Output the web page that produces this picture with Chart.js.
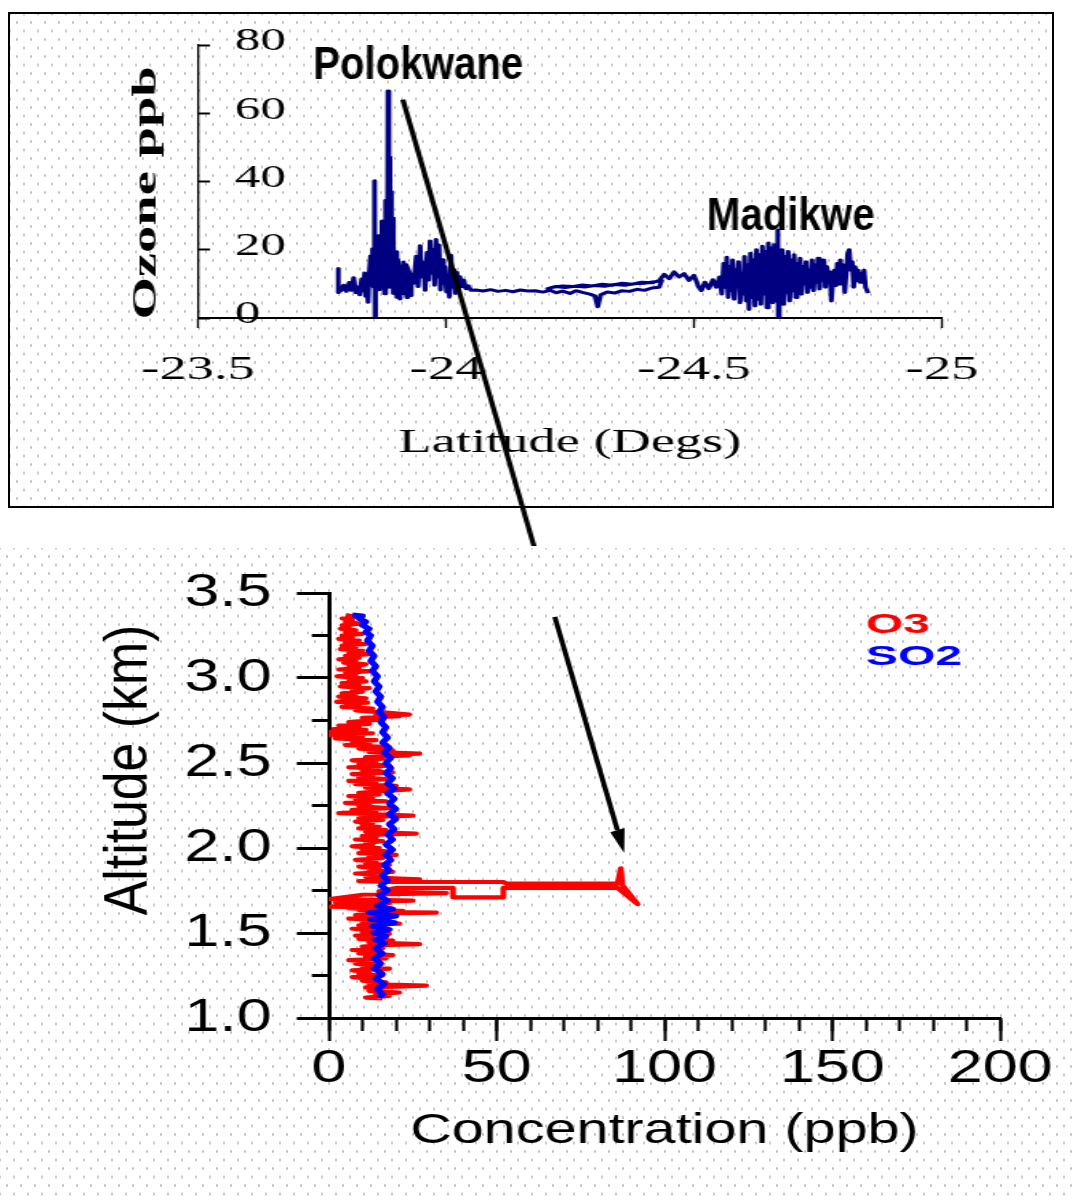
<!DOCTYPE html>
<html>
<head>
<meta charset="utf-8">
<title>Ozone, Polokwane to Madikwe</title>
<script src="https://cdn.jsdelivr.net/npm/chart.js@4.4.1/dist/chart.umd.min.js"></script>
<style>
  html, body { margin: 0; padding: 0; background: #fff; }
  body { position: relative; width: 1073px; height: 1200px; overflow: hidden; }
  .dots {
    background-color: #fff;
    background-image: radial-gradient(circle, #c4c4c4 0 1px, transparent 1.5px),
                      radial-gradient(circle, #c4c4c4 0 1px, transparent 1.5px);
    background-size: 14px 17px;
    background-position: 0 0, 7px 8.5px;
  }
  #box { position: absolute; left: 8px; top: 12px; width: 1042px; height: 492px; border: 2px solid #000; }
  #lowBg { position: absolute; left: 0; top: 548px; width: 1073px; height: 652px; }
  .wrap { position: absolute; transform-origin: 0 0; }
  .wrap canvas { display: block; }
  #topWrap { left: 10px; top: 14px; width: 651px; height: 532px; transform: scaleX(1.6); }
  #lowWrap { left: 0; top: 550px; width: 783px; height: 650px; transform: scaleX(1.37); }
</style>
</head>
<body>
<div id="box" class="dots"></div>
<div id="lowBg" class="dots"></div>
<div id="topWrap" class="wrap"><canvas id="top-chart" width="651" height="532"></canvas></div>
<div id="lowWrap" class="wrap"><canvas id="low-chart" width="783" height="650"></canvas></div>
<script>
// Tick values
const latTicks = [-23.5, -24, -24.5, -25];
const ozoneTicks = [0, 20, 40, 60, 80];
const altTicks = [1.0, 1.5, 2.0, 2.5, 3.0, 3.5];
const altLabels = ['1.0', '1.5', '2.0', '2.5', '3.0', '3.5'];
const concTicks = [0, 50, 100, 150, 200];

// Flight track, [latitude, ozone ppb]
const ozoneTrack = [
  // Polokwane
  [-23.783,14.5],[-23.783,7.5],[-23.789,8.2],[-23.794,9.6],[-23.799,7.8],[-23.805,10.4],[-23.809,8.1],
  [-23.814,11.8],[-23.818,7.4],[-23.822,9.1],[-23.826,6.8],[-23.830,11.4],[-23.833,8.0],[-23.836,13.2],
  [-23.838,6.4],[-23.840,9.6],[-23.843,4.6],[-23.845,12.6],[-23.848,18.2],[-23.850,11.0],[-23.852,20.3],
  [-23.854,9.1],[-23.856,40.2],[-23.857,0.2],[-23.858,14.1],[-23.860,22.4],[-23.862,10.2],[-23.864,24.1],
  [-23.866,8.3],[-23.868,19.2],[-23.870,13.0],[-23.871,28.4],[-23.873,9.2],[-23.875,21.0],[-23.876,7.1],
  [-23.878,34.5],[-23.879,12.2],[-23.881,23.4],[-23.882,10.1],[-23.883,66.5],[-23.885,12.0],[-23.886,47.2],
  [-23.887,9.0],[-23.889,37.1],[-23.890,14.2],[-23.892,29.3],[-23.893,7.2],[-23.895,21.1],[-23.897,11.0],
  [-23.899,19.4],[-23.901,6.1],[-23.903,17.2],[-23.905,9.5],[-23.907,15.3],[-23.908,5.6],[-23.910,13.1],
  [-23.912,8.0],[-23.914,16.4],[-23.916,7.1],[-23.918,11.2],[-23.921,6.0],[-23.923,14.1],[-23.925,8.5],
  [-23.928,12.2],[-23.930,6.6],
  [-23.915,10.1],[-23.900,13.2],[-23.885,10.4],[-23.870,12.6],[-23.860,9.1],[-23.850,11.2],[-23.862,14.3],
  [-23.878,16.1],[-23.892,18.2],[-23.905,12.1],[-23.920,15.6],[-23.935,10.2],
  [-23.940,18.1],[-23.944,9.2],[-23.948,21.2],[-23.951,12.1],[-23.955,16.3],[-23.958,8.1],[-23.962,19.2],
  [-23.965,11.1],[-23.968,22.6],[-23.971,13.2],[-23.974,20.1],[-23.977,9.6],[-23.980,23.0],[-23.983,12.1],
  [-23.986,21.4],[-23.989,8.2],[-23.992,17.1],[-23.995,10.2],[-23.998,15.1],[-24.001,7.6],[-24.004,12.2],
  [-24.007,6.1],[-24.010,18.4],[-24.013,9.1],[-24.016,14.2],[-24.019,7.2],[-24.022,13.4],[-24.025,8.1],
  [-24.028,12.1],[-24.032,9.2],[-24.036,11.1],[-24.040,8.6],[-24.045,9.4],[-24.050,8.1],
  // transit
  [-24.060,8.2],[-24.075,7.9],[-24.090,8.3],[-24.105,7.8],[-24.120,8.1],[-24.135,7.7],[-24.150,8.2],
  [-24.165,7.9],[-24.180,8.0],[-24.195,7.6],[-24.210,8.1],[-24.222,7.4],[-24.235,7.9],[-24.250,7.2],
  [-24.262,8.0],[-24.275,7.5],[-24.290,7.0],[-24.300,6.5],[-24.306,3.3],[-24.312,6.8],[-24.325,7.6],
  [-24.340,7.3],[-24.355,8.0],[-24.370,7.8],[-24.385,8.4],[-24.400,8.1],[-24.415,8.8],[-24.430,9.0],
  [-24.435,11.0],[-24.420,10.6],[-24.400,10.2],[-24.380,10.0],[-24.360,9.6],[-24.340,9.8],[-24.320,9.3],
  [-24.300,9.5],[-24.280,9.1],[-24.260,9.3],[-24.240,8.9],[-24.220,9.2],[-24.205,8.6],
  [-24.215,9.0],[-24.235,9.4],[-24.255,9.2],[-24.275,9.7],[-24.295,9.4],[-24.315,9.9],[-24.335,9.6],
  [-24.355,10.2],[-24.375,9.9],[-24.395,10.5],[-24.415,10.3],[-24.430,11.0],[-24.440,12.8],[-24.450,11.5],
  [-24.460,13.5],[-24.470,12.0],[-24.480,13.0],[-24.490,11.0],[-24.500,12.5],[-24.510,9.0],[-24.515,8.0],
  [-24.522,10.5],[-24.530,8.6],[-24.538,11.2],[-24.545,9.0],[-24.552,12.0],
  // Madikwe
  [-24.556,7.0],[-24.560,16.0],[-24.563,9.0],[-24.566,17.8],[-24.569,6.0],[-24.572,15.0],[-24.575,8.0],
  [-24.578,17.0],[-24.581,5.5],[-24.584,14.0],[-24.587,9.5],[-24.590,16.5],[-24.593,4.5],[-24.596,13.0],
  [-24.599,7.0],[-24.602,18.0],[-24.605,5.0],[-24.608,15.5],[-24.611,2.5],[-24.614,19.0],[-24.617,6.0],
  [-24.620,17.0],[-24.623,3.5],[-24.626,20.0],[-24.629,5.5],[-24.632,18.5],[-24.635,4.0],[-24.638,21.0],
  [-24.641,7.0],[-24.644,19.5],[-24.647,3.0],[-24.650,22.0],[-24.653,6.0],[-24.656,20.5],[-24.659,4.5],
  [-24.662,21.5],[-24.665,5.0],[-24.667,19.0],[-24.669,25.8],[-24.670,0.3],[-24.672,17.0],[-24.675,6.5],
  [-24.678,20.0],[-24.681,4.0],[-24.684,18.0],[-24.687,7.5],[-24.690,19.5],[-24.693,5.0],[-24.696,17.0],
  [-24.699,8.0],[-24.702,18.5],[-24.705,6.0],[-24.708,16.0],[-24.711,9.0],[-24.714,17.5],[-24.717,7.0],
  [-24.720,15.0],[-24.723,10.0],[-24.726,16.5],[-24.729,7.5],[-24.732,14.0],[-24.735,9.0],[-24.738,17.0],
  [-24.741,8.0],[-24.744,15.5],[-24.747,10.5],[-24.750,17.5],[-24.753,8.5],[-24.756,14.5],[-24.759,11.0],
  [-24.762,17.0],[-24.765,9.0],[-24.768,15.0],[-24.771,12.0],[-24.774,13.5],[-24.777,5.0],[-24.780,11.0],
  [-24.783,14.0],[-24.786,9.5],[-24.789,16.0],[-24.792,10.0],[-24.795,17.0],[-24.798,12.0],[-24.801,15.5],
  [-24.804,7.5],[-24.807,13.0],[-24.810,19.0],[-24.813,20.0],[-24.816,14.0],[-24.819,16.5],[-24.822,9.0],
  [-24.825,15.0],[-24.828,11.0],[-24.831,14.0],[-24.834,10.5],[-24.837,13.0],[-24.840,12.0],[-24.843,14.0],
  [-24.846,9.0],[-24.849,8.0],[-24.851,7.3]
];

// Vertical profile over Polokwane, [concentration ppb, altitude km]
const o3Profile = [
  [5,3.37],[8,3.36],[4,3.35],[7,3.34],[5,3.33],[9,3.32],[4,3.31],[6,3.30],[3.5,3.29],[8,3.28],[5,3.27],
  [10,3.26],[4,3.25],[7,3.24],[3,3.23],[9,3.22],[5,3.21],[11,3.20],[4,3.19],[8,3.18],[3.5,3.17],[10,3.16],
  [6,3.15],[12,3.14],[5,3.13],[9,3.12],[3,3.11],[8,3.10],[4.5,3.09],[11,3.08],[6,3.07],[9,3.06],[3,3.05],
  [12,3.04],[5,3.03],[8,3.02],[2.5,3.01],[10,3.00],[6,2.99],[11,2.98],[4,2.97],[9,2.96],[3.5,2.95],[12,2.94],
  [7,2.93],[10,2.92],[4,2.91],[8,2.90],[3,2.89],[11,2.88],[6,2.87],[2.4,2.86],[11.5,2.855],[5,2.85],[9,2.84],
  [4,2.83],[13,2.82],[8,2.81],[18,2.795],[24,2.785],[14,2.78],[21,2.775],[10,2.765],[15,2.755],[6,2.74],
  [12,2.73],[3,2.72],[9,2.71],[1.5,2.70],[11,2.695],[0.8,2.685],[13,2.675],[0.5,2.665],[10,2.655],[2,2.645],
  [14,2.635],[7,2.625],[12,2.615],[5,2.605],[16,2.595],[9,2.585],[19,2.575],[12,2.565],[27,2.555],[18,2.55],
  [24,2.545],[11,2.535],[16,2.525],[7,2.515],[14,2.505],[9,2.495],[18,2.485],[6,2.475],[15,2.465],[10,2.455],
  [19,2.445],[7,2.435],[13,2.425],[9,2.415],[17,2.405],[6,2.395],[14,2.385],[8,2.375],[20,2.365],[11,2.355],
  [24,2.345],[16,2.335],[9,2.325],[15,2.315],[6,2.305],[13,2.295],[8,2.285],[17,2.275],[5,2.265],[12,2.255],
  [9,2.245],[18,2.235],[7,2.225],[14,2.215],[3,2.205],[12,2.20],[25,2.19],[15,2.185],[9,2.175],[16,2.165],
  [8,2.155],[13,2.145],[10,2.135],[15,2.125],[9,2.115],[17,2.105],[11,2.095],[26,2.085],[16,2.08],[10,2.07],
  [14,2.06],[8,2.05],[16,2.04],[11,2.03],[13,2.02],[7,2.01],[15,2.00],[10,1.99],[17,1.98],[9,1.97],[20,1.96],
  [12,1.95],[16,1.94],[8,1.93],[14,1.92],[11,1.91],[18,1.90],[9,1.89],[15,1.88],[12,1.87],[19,1.86],[8,1.85],
  [16,1.84],[11,1.83],[21,1.82],[27,1.815],[14,1.81],[9,1.805],
  [18,1.80],[30,1.80],[52,1.80],[53,1.79],[86,1.79],[87,1.88],[87.5,1.78],[92,1.67],[86,1.765],[52,1.765],
  [52,1.71],[37,1.71],[37,1.765],[20,1.765],[15,1.745],[35,1.735],[10,1.725],[0.3,1.70],[25,1.69],[2,1.68],
  [18,1.675],[6,1.665],[0.3,1.655],[14,1.65],[6,1.645],[19,1.64],[9,1.635],[22,1.63],[11,1.625],[32,1.62],
  [17,1.615],[8,1.605],[15,1.595],[6,1.585],[18,1.575],[10,1.565],[21,1.555],[9,1.545],[14,1.535],[7,1.525],
  [16,1.515],[10,1.505],[18,1.495],[8,1.485],[13,1.475],[9,1.465],[19,1.455],[12,1.445],[27,1.435],[18,1.43],
  [10,1.42],[16,1.41],[7,1.40],[14,1.39],[9,1.38],[19,1.37],[11,1.36],[17,1.35],[6,1.34],[13,1.33],[8,1.32],
  [15,1.31],[10,1.30],[18,1.29],[7,1.28],[12,1.27],[9,1.26],[16,1.25],[7,1.24],[13,1.23],[10,1.22],[17,1.21],
  [12,1.20],[29,1.19],[20,1.185],[11,1.18],[16,1.17],[12,1.16],[21,1.15],[14,1.14],[18,1.13],[11,1.12],[16,1.115]
];
const so2Profile = [
  [7,3.37],[10,3.365],[9,3.35],[11,3.33],[10,3.31],[12,3.29],[11,3.27],[12.5,3.25],[11.5,3.22],[13,3.19],
  [12,3.16],[13.5,3.13],[12.5,3.10],[14,3.07],[13,3.04],[14.5,3.01],[13.5,2.98],[15,2.95],[14,2.92],[15.5,2.89],
  [14.5,2.86],[16,2.83],[15,2.80],[16.5,2.77],[15.5,2.74],[17,2.71],[16,2.68],[17.5,2.65],[16,2.62],[18,2.59],
  [16.5,2.56],[18.5,2.53],[17,2.50],[18.5,2.47],[17,2.44],[19,2.41],[17.5,2.38],[19.5,2.35],[17.5,2.32],
  [19.5,2.29],[18,2.26],[20,2.23],[18,2.20],[20,2.17],[18,2.14],[19.5,2.11],[17.5,2.08],[19,2.05],[17,2.02],
  [19,1.99],[17,1.96],[18.5,1.93],[16.5,1.90],[18,1.87],[16,1.84],[17.5,1.81],[15.5,1.78],[17.5,1.75],[15,1.72],
  [17.5,1.69],[14.5,1.66],[19,1.64],[12,1.62],[20,1.60],[12.5,1.58],[19.5,1.56],[13,1.54],[18,1.52],[13.5,1.50],
  [17,1.48],[14,1.46],[16.5,1.44],[14,1.41],[16,1.38],[13.5,1.35],[15.5,1.32],[13.5,1.29],[16,1.26],[14,1.23],
  [16.5,1.20],[14.5,1.17],[16,1.14],[15,1.12]
];

// Annotations
const places = [
  { name: 'Polokwane', lat: -23.732, ppb: 70 },
  { name: 'Madikwe', lat: -24.526, ppb: 25.8 }
];
const gasLabelAt = { O3: [160, 3.31], SO2: [160, 3.12] };
const arrowFrom = [-23.913, 64];   // top panel: latitude, ppb
const arrowTo = [88, 1.97];        // lower panel: ppb, km
const arrowResume = 3.36;          // km where the arrow reappears in the lower panel

const serif = "'Liberation Serif', 'Times New Roman', serif";
const sans = "'Liberation Sans', Arial, sans-serif";

Chart.defaults.color = '#000';
Chart.defaults.animation = false;
Chart.defaults.events = [];

const toPts = (arr) => arr.map(([x, y]) => ({ x, y }));

function stretchText(ctx, text, x, y, font, color, sx, align, baseline) {
  ctx.save();
  ctx.font = font;
  ctx.fillStyle = color;
  ctx.textAlign = align || 'left';
  ctx.textBaseline = baseline || 'alphabetic';
  ctx.translate(x, y);
  ctx.scale(sx, 1);
  ctx.fillText(text, 0, 0);
  ctx.restore();
}

// canvas <-> page coordinates (the wrappers are stretched sideways)
function stretchOf(chart) {
  const r = chart.canvas.getBoundingClientRect();
  return { r, sx: r.width / chart.width };
}
function toPage(chart, px, py) {
  const { r, sx } = stretchOf(chart);
  return { x: r.left + px * sx, y: r.top + py };
}
function toLocal(chart, p) {
  const { r, sx } = stretchOf(chart);
  return { x: (p.x - r.left) / sx, y: p.y - r.top };
}

// keep tick labels from pushing the plot area around
const noLabelPadding = (s) => { s.paddingTop = 0; s.paddingBottom = 0; };

// rotated y title, stretched along its length
const sideTitle = {
  id: 'sideTitle',
  afterDraw(chart, args, opts) {
    const { ctx, chartArea: a } = chart;
    ctx.save();
    ctx.translate(a.left - opts.gap, (a.top + a.bottom) / 2 + opts.shift);
    ctx.rotate(-Math.PI / 2);
    ctx.scale(opts.along, 1);
    ctx.font = opts.textFont;
    ctx.fillStyle = '#000';
    ctx.textAlign = 'center';
    ctx.textBaseline = 'middle';
    ctx.fillText(opts.text, 0, 0);
    ctx.restore();
  }
};

const placeNotes = {
  id: 'placeNotes',
  afterDraw(chart) {
    const { ctx, scales } = chart;
    const sx = 0.875 / stretchOf(chart).sx;
    places.forEach((p) => {
      stretchText(ctx, p.name, scales.x.getPixelForValue(p.lat), scales.y.getPixelForValue(p.ppb),
        'bold 46px ' + sans, '#000', sx);
    });
  }
};

const gasLabels = {
  id: 'gasLabels',
  afterDraw(chart) {
    const { ctx, scales } = chart;
    chart.data.datasets.forEach((ds) => {
      const at = gasLabelAt[ds.label];
      stretchText(ctx, ds.label, scales.x.getPixelForValue(at[0]), scales.y.getPixelForValue(at[1]),
        'bold 27px ' + sans, ds.borderColor, 1.3, 'left', 'middle');
    });
  }
};

let arrowPage = null;
const arrowLink = {
  id: 'arrowLink',
  afterDraw(chart, args, opts) {
    if (!arrowPage) return;
    const { ctx } = chart;
    const { p0, p1, resumeY } = arrowPage;
    const dx = p1.x - p0.x, dy = p1.y - p0.y;
    const len = Math.hypot(dx, dy);
    const ux = dx / len, uy = dy / len;
    ctx.save();
    ctx.strokeStyle = '#000';
    ctx.fillStyle = '#000';
    ctx.lineWidth = opts.width;
    ctx.lineCap = 'butt';
    if (opts.part === 'top') {
      const a = toLocal(chart, p0), b = toLocal(chart, p1);
      ctx.beginPath(); ctx.moveTo(a.x, a.y); ctx.lineTo(b.x, b.y); ctx.stroke();
    } else {
      const t = (resumeY - p0.y) / dy;
      const s = toLocal(chart, { x: p0.x + t * dx, y: resumeY });
      const headLen = 24, headHalf = 7.5;
      const base = { x: p1.x - ux * headLen, y: p1.y - uy * headLen };
      const b = toLocal(chart, base);
      const tip = toLocal(chart, p1);
      const l = toLocal(chart, { x: base.x - uy * headHalf, y: base.y + ux * headHalf });
      const r = toLocal(chart, { x: base.x + uy * headHalf, y: base.y - ux * headHalf });
      ctx.beginPath(); ctx.moveTo(s.x, s.y); ctx.lineTo(b.x, b.y); ctx.stroke();
      ctx.beginPath(); ctx.moveTo(tip.x, tip.y); ctx.lineTo(l.x, l.y); ctx.lineTo(r.x, r.y); ctx.closePath(); ctx.fill();
    }
    ctx.restore();
  }
};

// Top panel: ozone along the flight track
const topChart = new Chart(document.getElementById('top-chart').getContext('2d'), {
  type: 'scatter',
  data: {
    datasets: [{
      label: 'Ozone',
      data: toPts(ozoneTrack),
      showLine: true,
      borderColor: '#000080',
      borderWidth: 3,
      borderJoinStyle: 'round',
      pointRadius: 0,
      tension: 0
    }]
  },
  options: {
    responsive: false,
    layout: { padding: { top: 31, right: 68.5, left: 0, bottom: 0 } },
    plugins: {
      legend: { display: false },
      tooltip: { enabled: false },
      sideTitle: { text: 'Ozone ppb', textFont: 'bold 22px ' + serif, gap: 32, shift: 11.5, along: 2.48 },
      arrowLink: { part: 'top', width: 3.2 }
    },
    scales: {
      x: {
        type: 'linear',
        min: -25,
        max: -23.5,
        reverse: true,
        afterBuildTicks: (s) => { s.ticks = latTicks.map((v) => ({ value: v })); },
        afterFit: (s) => { s.height = 228; },
        grid: { drawOnChartArea: false, tickLength: 10, tickWidth: 1.3, tickColor: '#000' },
        border: { color: '#000', width: 2 },
        ticks: {
          font: { family: serif, size: 34 },
          padding: 21.6,
          maxRotation: 0,
          autoSkip: false,
          callback: (v) => String(v)
        },
        title: {
          display: true,
          text: 'Latitude (Degs)',
          font: { family: serif, size: 34 },
          padding: { top: 0, bottom: 83 }
        }
      },
      y: {
        type: 'linear',
        min: 0,
        max: 80,
        afterBuildTicks: (s) => { s.ticks = ozoneTicks.map((v) => ({ value: v })); },
        afterFit: (s) => { s.width = 117.5; noLabelPadding(s); },
        grid: { drawOnChartArea: false, tickLength: -7.5, tickWidth: 2, tickColor: '#000' },
        border: { color: '#000', width: 1.3 },
        ticks: { mirror: true, padding: 23, labelOffset: -3, font: { family: serif, size: 32 } }
      }
    }
  },
  plugins: [sideTitle, placeNotes, arrowLink]
});

// Lower panel: O3 and SO2 profiles
const lowChart = new Chart(document.getElementById('low-chart').getContext('2d'), {
  type: 'scatter',
  data: {
    datasets: [
      { label: 'O3', data: toPts(o3Profile), showLine: true, borderColor: '#ff0000', borderWidth: 4.2,
        borderJoinStyle: 'round', pointRadius: 0, tension: 0, order: 1 },
      { label: 'SO2', data: toPts(so2Profile), showLine: true, borderColor: '#0000ff', borderWidth: 5,
        borderJoinStyle: 'round', pointRadius: 0, tension: 0, order: 0 }
    ]
  },
  options: {
    responsive: false,
    layout: { padding: { top: 43, right: 53, left: 0, bottom: 0 } },
    plugins: {
      legend: { display: false },
      tooltip: { enabled: false },
      sideTitle: { text: 'Altitude (km)', textFont: '45px ' + sans, gap: 145, shift: -35.5, along: 1.15 },
      arrowLink: { part: 'low', width: 3.7 }
    },
    scales: {
      x: {
        type: 'linear',
        position: 'bottom',
        weight: 1,
        min: 0,
        max: 200,
        afterBuildTicks: (s) => { s.ticks = concTicks.map((v) => ({ value: v })); },
        afterFit: (s) => { s.height = 182; },
        grid: { drawOnChartArea: false, tickLength: 23, tickWidth: 2.2, tickColor: '#000' },
        border: { color: '#000', width: 3 },
        ticks: { font: { family: sans, size: 46 }, padding: 1, maxRotation: 0, autoSkip: false },
        title: {
          display: true,
          text: 'Concentration (ppb)',
          font: { family: sans, size: 42 },
          padding: { top: 0, bottom: 43 }
        }
      },
      xMinor: {
        type: 'linear',
        axis: 'x',
        position: 'bottom',
        weight: 0,
        min: 0,
        max: 200,
        afterFit: (s) => { s.height = 0; },
        grid: { drawOnChartArea: false, tickLength: 13, tickWidth: 2.2, tickColor: '#000' },
        border: { display: false },
        ticks: { stepSize: 10, display: false }
      },
      y: {
        type: 'linear',
        position: 'left',
        weight: 1,
        min: 1,
        max: 3.5,
        afterBuildTicks: (s) => { s.ticks = altTicks.map((v) => ({ value: v })); },
        afterFit: (s) => { s.width = 240; noLabelPadding(s); },
        grid: { drawOnChartArea: false, tickLength: 23.4, tickWidth: 3, tickColor: '#000' },
        border: { color: '#000', width: 3 },
        ticks: { font: { family: sans, size: 46 }, padding: 18.2, callback: (v, i) => altLabels[i] }
      },
      yMinor: {
        type: 'linear',
        axis: 'y',
        position: 'left',
        weight: 0,
        min: 1,
        max: 3.5,
        afterFit: (s) => { s.width = 0; },
        grid: { drawOnChartArea: false, tickLength: 12.4, tickWidth: 3, tickColor: '#000' },
        border: { display: false },
        ticks: { stepSize: 0.25, display: false }
      }
    }
  },
  plugins: [sideTitle, gasLabels, arrowLink]
});

// join the arrow across both panels once both scales exist
function linkArrow() {
  const p0 = toPage(topChart, topChart.scales.x.getPixelForValue(arrowFrom[0]), topChart.scales.y.getPixelForValue(arrowFrom[1]));
  const p1 = toPage(lowChart, lowChart.scales.x.getPixelForValue(arrowTo[0]), lowChart.scales.y.getPixelForValue(arrowTo[1]));
  const resumeY = toPage(lowChart, 0, lowChart.scales.y.getPixelForValue(arrowResume)).y;
  arrowPage = { p0, p1, resumeY };
  topChart.draw();
  lowChart.draw();
}
linkArrow();
</script>
</body>
</html>
